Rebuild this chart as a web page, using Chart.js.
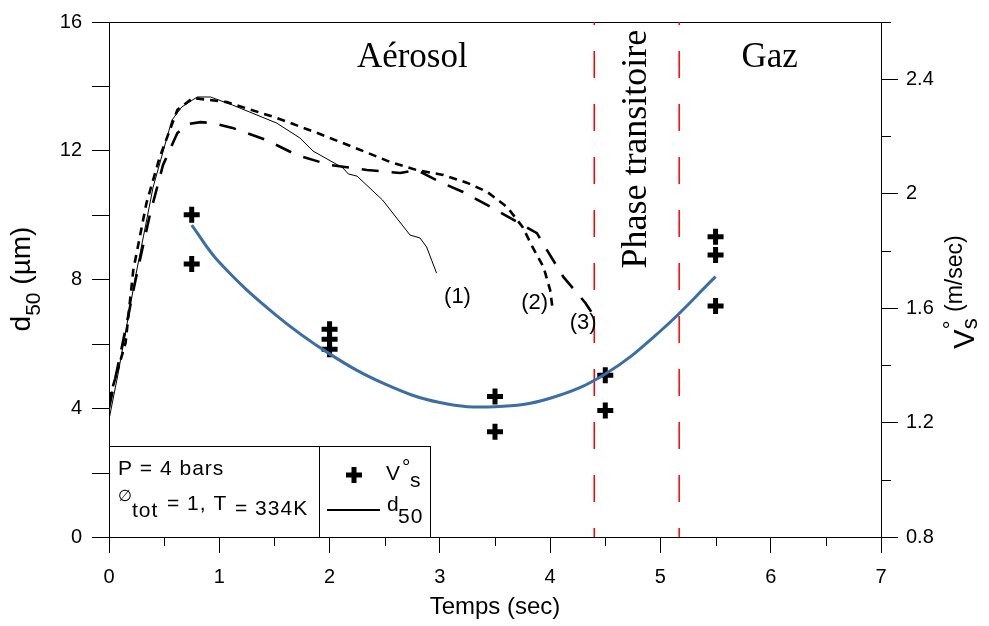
<!DOCTYPE html>
<html>
<head>
<meta charset="utf-8">
<script src="https://cdn.jsdelivr.net/npm/chart.js@4/dist/chart.umd.min.js"></script>
<style>
  body { margin: 0; background: #fff; }
  canvas { display: block; }
</style>
</head>
<body>
<canvas id="grafico" width="989" height="626"></canvas>
<script>
// courbe (1) - trait fin
const temps1 = [0, 0.08, 0.24, 0.40, 0.57, 0.66, 0.80, 0.92, 1.12, 1.52, 1.73, 1.85, 2.12, 2.17, 2.25, 2.48, 2.73, 2.82, 2.88, 2.97];
const d50_1 = [3.65, 5.03, 8.08, 10.87, 12.95, 13.36, 13.67, 13.67, 13.42, 12.86, 12.40, 11.99, 11.47, 11.28, 11.21, 10.47, 9.38, 9.29, 9.01, 8.20];

// courbe (2) - tirets courts
const temps2 = [0, 0.15, 0.22, 0.34, 0.46, 0.62, 0.76, 1.07, 1.52, 1.89, 2.21, 2.55, 2.79, 3.03, 3.25, 3.43, 3.61, 3.75, 3.84, 3.94, 4.00, 4.02];
const d50_2 = [4.26, 6.03, 8.29, 10.38, 11.80, 13.27, 13.64, 13.51, 13.02, 12.55, 12.12, 11.65, 11.40, 11.25, 11.00, 10.72, 10.25, 9.63, 9.01, 8.39, 7.67, 7.15];

// courbe (3) - tirets longs
const temps3 = [0, 0.12, 0.24, 0.37, 0.49, 0.62, 0.72, 0.83, 0.94, 1.12, 1.43, 1.70, 2.00, 2.34, 2.64, 2.79, 3.00, 3.21, 3.48, 3.75, 3.88, 3.97, 4.12, 4.32, 4.38];
const d50_3 = [4.0, 5.96, 7.98, 10.0, 11.56, 12.55, 12.83, 12.89, 12.86, 12.71, 12.33, 11.87, 11.56, 11.40, 11.31, 11.40, 11.03, 10.72, 10.22, 9.69, 9.44, 8.92, 8.08, 7.27, 6.96];

// vitesses mesurees V°s (axe de droite)
const tempsV = [0.75, 0.75, 2, 2, 2, 3.5, 3.5, 4.5, 4.5, 5.5, 5.5, 5.5];
const vitesses = [1.926, 1.754, 1.526, 1.491, 1.456, 1.291, 1.168, 1.365, 1.242, 1.849, 1.786, 1.607];

// courbe bleue (lissage de V°s)
const tempsFit = [0.75, 1, 1.5, 2, 2.5, 3, 3.5, 4, 4.5, 5, 5.5];
const vitesseFit = [1.89, 1.76, 1.58, 1.44, 1.335, 1.27, 1.255, 1.285, 1.37, 1.52, 1.71];

// limites de la phase transitoire
const limitesPhase = [4.4, 5.17];

const ticksX = [0, 1, 2, 3, 4, 5, 6, 7];
const ticksD50 = [0, 4, 8, 12, 16];
const ticksV = [0.8, 1.2, 1.6, 2.0, 2.4];
const mineursX = [0.5, 1.5, 2.5, 3.5, 4.5, 5.5, 6.5];
const mineursD50 = [2, 6, 10, 14];
const mineursV = [1.0, 1.4, 1.8, 2.2, 2.6];

const SANS = '"Liberation Sans", Arial, sans-serif';
const SERIF = '"Liberation Serif", "Times New Roman", serif';

function pts(xs, ys) {
    return xs.map((x, i) => ({ x: x, y: ys[i] }));
}

function texteTourne(ctx, cx, cy, morceaux) {
    // morceaux: [texte, taille, decalage vertical, 'stack' = sans avance]
    ctx.save();
    ctx.translate(cx, cy);
    ctx.rotate(-Math.PI / 2);
    let total = 0;
    morceaux.forEach(m => {
        ctx.font = m[1] + 'px ' + SANS;
        m.w = m[3] === 'stack' ? 0 : ctx.measureText(m[0]).width;
        total += m.w;
    });
    let x = -total / 2;
    ctx.textAlign = 'left';
    ctx.textBaseline = 'alphabetic';
    morceaux.forEach(m => {
        ctx.font = m[1] + 'px ' + SANS;
        ctx.fillText(m[0], x, m[2]);
        x += m.w;
    });
    ctx.restore();
}

const decor = {
    id: 'decor',
    beforeDatasetsDraw(chart) {
        const ctx = chart.ctx;
        const a = chart.chartArea;
        const sx = chart.scales.x, sy = chart.scales.y, sv = chart.scales.y1;
        ctx.save();
        ctx.strokeStyle = '#000';
        ctx.lineWidth = 1;
        ctx.beginPath();
        // bord du haut
        ctx.moveTo(a.left, a.top + 0.5);
        ctx.lineTo(a.right, a.top + 0.5);
        mineursX.forEach(v => {
            const p = Math.round(sx.getPixelForValue(v)) + 0.5;
            ctx.moveTo(p, a.bottom); ctx.lineTo(p, a.bottom + 9);
        });
        mineursD50.forEach(v => {
            const p = Math.round(sy.getPixelForValue(v)) + 0.5;
            ctx.moveTo(a.left, p); ctx.lineTo(a.left - 17, p);
        });
        mineursV.forEach(v => {
            const p = Math.round(sv.getPixelForValue(v)) + 0.5;
            ctx.moveTo(a.right, p); ctx.lineTo(a.right + 10, p);
        });
        ctx.stroke();
        ctx.restore();
    },
    afterDatasetsDraw(chart) {
        const ctx = chart.ctx;
        const a = chart.chartArea;
        const sx = chart.scales.x, sy = chart.scales.y;
        ctx.save();
        ctx.fillStyle = '#000';

        // zones
        ctx.font = '35px ' + SERIF;
        ctx.textAlign = 'center';
        ctx.textBaseline = 'middle';
        ctx.fillText('Aérosol', sx.getPixelForValue(2.75), sy.getPixelForValue(14.9));
        ctx.fillText('Gaz', sx.getPixelForValue(5.99), sy.getPixelForValue(14.9));
        ctx.save();
        ctx.font = '36px ' + SERIF;
        ctx.translate(sx.getPixelForValue(4.78), sy.getPixelForValue(12.05));
        ctx.rotate(-Math.PI / 2);
        ctx.fillText('Phase transitoire', 0, 0);
        ctx.restore();

        // numeros des courbes
        ctx.font = '22px ' + SANS;
        ctx.fillText('(1)', sx.getPixelForValue(3.16), sy.getPixelForValue(7.45));
        ctx.fillText('(2)', sx.getPixelForValue(3.86), sy.getPixelForValue(7.27));
        ctx.fillText('(3)', sx.getPixelForValue(4.30), sy.getPixelForValue(6.65));

        // cadre de legende
        const L = a.left, B = a.bottom, T = B - 91, D = L + 210, R = L + 322;
        ctx.fillStyle = '#fff';
        ctx.fillRect(L, T, R - L, B - T);
        ctx.strokeStyle = '#000';
        ctx.lineWidth = 1;
        ctx.strokeRect(L + 0.5, T + 0.5, R - L - 1, B - T);
        ctx.beginPath();
        ctx.moveTo(D + 0.5, T); ctx.lineTo(D + 0.5, B);
        ctx.stroke();

        ctx.fillStyle = '#000';
        ctx.textAlign = 'left';
        ctx.textBaseline = 'alphabetic';
        ctx.letterSpacing = '1px';
        ctx.font = '21px ' + SANS;
        ctx.fillText('P = 4 bars', L + 9, T + 29);
        ctx.font = '16px ' + SANS;
        ctx.fillText('\u2205', L + 9, T + 55);
        ctx.font = '21px ' + SANS;
        ctx.fillText('tot', L + 23, T + 71);
        ctx.fillText('= 1, T', L + 58, T + 64);
        ctx.fillText('= 334K', L + 126, T + 69);

        // symbole plus
        ctx.lineWidth = 5;
        ctx.beginPath();
        ctx.moveTo(D + 27, T + 29); ctx.lineTo(D + 43, T + 29);
        ctx.moveTo(D + 35, T + 21); ctx.lineTo(D + 35, T + 37);
        ctx.stroke();
        ctx.font = '21px ' + SANS;
        ctx.fillText('V', D + 67, T + 34);
        ctx.fillText('\u00b0', D + 83, T + 28);
        ctx.fillText('s', D + 91, T + 41);
        ctx.lineWidth = 2;
        ctx.beginPath();
        ctx.moveTo(D + 8, T + 64); ctx.lineTo(D + 61, T + 64);
        ctx.stroke();
        ctx.fillText('d', D + 68, T + 65);
        ctx.fillText('50', D + 79, T + 77);
        ctx.letterSpacing = '0px';

        // titres des axes
        texteTourne(ctx, 30, 279, [['d', 28, 0], ['50', 21, 10], [' (\u00b5m)', 28, 0]]);
        texteTourne(ctx, 974, 292, [['V', 29, 0], ['\u00b0', 22, -15, 'stack'], ['s', 22, 3], [' (m/sec)', 23, -12]]);
        ctx.font = '24px ' + SANS;
        ctx.textAlign = 'center';
        ctx.fillText('Temps (sec)', (a.left + a.right) / 2, 614);
        ctx.restore();
    }
};

const axeCommun = {
    border: { display: true, color: '#000', width: 1 },
    grid: { drawOnChartArea: false, drawTicks: true, tickLength: 17, color: '#000', tickColor: '#000' }
};

const jeux = [
    { data: pts(temps1, d50_1), borderColor: '#000', borderWidth: 1, yAxisID: 'y' },
    { data: pts(temps2, d50_2), borderColor: '#000', borderWidth: 2.6, borderDash: [8, 6], yAxisID: 'y' },
    { data: pts(temps3, d50_3), borderColor: '#000', borderWidth: 2.6, borderDash: [17, 13], yAxisID: 'y' },
    { data: pts(tempsFit, vitesseFit), borderColor: '#3c6ea5', borderWidth: 3, tension: 0.4, yAxisID: 'y1' }
];
limitesPhase.forEach(t => {
    jeux.push({ data: [{ x: t, y: 16 }, { x: t, y: 0 }], borderColor: '#ff0000', borderWidth: 1.5, borderDash: [27, 26], borderDashOffset: 24, yAxisID: 'y' });
});
jeux.forEach(j => { j.showLine = true; j.pointRadius = 0; j.fill = false; });
jeux.push({
    data: pts(tempsV, vitesses), yAxisID: 'y1', showLine: false,
    pointStyle: 'cross', pointRadius: 8, pointBorderWidth: 5,
    pointBorderColor: '#000', pointBackgroundColor: '#000'
});

new Chart(document.getElementById('grafico'), {
    type: 'scatter',
    data: { datasets: jeux },
    options: {
        responsive: false,
        animation: false,
        layout: { padding: { top: 22, left: 0, right: 0, bottom: 0 } },
        plugins: { legend: { display: false }, tooltip: { enabled: false } },
        scales: {
            x: Object.assign({}, axeCommun, {
                type: 'linear', min: 0, max: 7,
                grid: Object.assign({}, axeCommun.grid, { tickLength: 16 }),
                afterBuildTicks(s) { s.ticks = ticksX.map(v => ({ value: v })); },
                ticks: { color: '#000', font: { family: SANS, size: 20 }, padding: 12, maxRotation: 0 },
                afterFit(s) { s.height = 89; }
            }),
            y: Object.assign({}, axeCommun, {
                type: 'linear', position: 'left', min: 0, max: 16,
                afterBuildTicks(s) { s.ticks = ticksD50.map(v => ({ value: v })); },
                ticks: { color: '#000', font: { family: SANS, size: 20 }, padding: 10 },
                afterFit(s) { s.width = 109; }
            }),
            y1: Object.assign({}, axeCommun, {
                type: 'linear', position: 'right', min: 0.8, max: 2.6,
                afterBuildTicks(s) { s.ticks = ticksV.map(v => ({ value: v })); },
                ticks: { color: '#000', font: { family: SANS, size: 20 }, padding: 8,
                         callback: v => String(Math.round(v * 10) / 10) },
                afterFit(s) { s.width = 108; }
            })
        }
    },
    plugins: [decor]
});
</script>
</body>
</html>
